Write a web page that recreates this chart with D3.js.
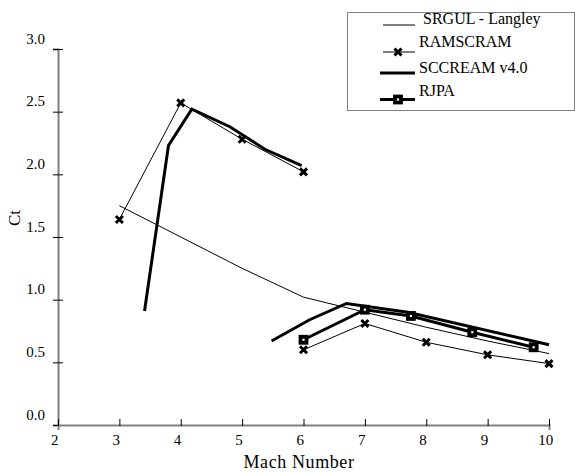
<!DOCTYPE html>
<html>
<head>
<meta charset="utf-8">
<script src="https://cdn.jsdelivr.net/npm/d3@7"></script>
<style>
  body { margin: 0; background: #fff; }
</style>
</head>
<body>
<div id="chart"></div>
<script>
// data
const srgulMach = [3, 4, 5, 6, 7, 8, 9, 10];
const srgulCt = [1.75, 1.50, 1.25, 1.02, 0.90, 0.78, 0.67, 0.57];

const ramHighMach = [3, 4, 5, 6];
const ramHighCt = [1.64, 2.57, 2.28, 2.02];
const ramLowMach = [6, 7, 8, 9, 10];
const ramLowCt = [0.60, 0.81, 0.66, 0.56, 0.49];

const sccHighMach = [3.41, 3.8, 4.18, 4.8, 5.37, 5.97];
const sccHighCt = [0.91, 2.23, 2.52, 2.38, 2.20, 2.07];
const sccLowMach = [5.48, 6.1, 6.7, 7.7, 10];
const sccLowCt = [0.67, 0.84, 0.97, 0.90, 0.64];

const rjpaMach = [6, 7, 7.75, 8.75, 9.75];
const rjpaCt = [0.68, 0.92, 0.87, 0.74, 0.62];

const xTicks = [2, 3, 4, 5, 6, 7, 8, 9, 10];
const yTicks = [0, 0.5, 1.0, 1.5, 2.0, 2.5, 3.0];

const legendNames = ["SRGUL - Langley", "RAMSCRAM", "SCCREAM v4.0", "RJPA"];

const serif = 'Liberation Serif';
const width = 575, height = 472;
const svg = d3.select('#chart').append('svg')
    .attr('width', width)
    .attr('height', height);

const xScale = d3.scaleLinear().domain([2, 10]).range([58, 549]);
const yScale = d3.scaleLinear().domain([0, 3]).range([425, 49]);

const zip = (xs, ys) => xs.map((m, i) => ({m: m, c: ys[i]}));

// axes
const yAxis = svg.append('g')
    .attr('transform', `translate(${xScale(2)},0)`)
    .call(d3.axisLeft(yScale).tickValues(yTicks).tickFormat(d3.format('.1f')).tickSize(5));
yAxis.select('.domain').attr('stroke', '#808080').attr('stroke-width', 2);
yAxis.selectAll('.tick line').attr('x1', -5).attr('x2', 5).attr('stroke', '#000');
yAxis.selectAll('.tick text')
    .attr('x', -13).attr('dy', '-0.4em')
    .style('font-family', serif)
    .style('font-size', '15px');

const xAxis = svg.append('g')
    .attr('transform', `translate(0,${yScale(0)})`)
    .call(d3.axisBottom(xScale).tickValues(xTicks).tickFormat(d3.format('d')).tickSize(5));
xAxis.select('.domain').attr('stroke', '#808080').attr('stroke-width', 2);
xAxis.selectAll('.tick line').attr('y1', -6).attr('y2', 1).attr('stroke', '#000');
xAxis.selectAll('.tick text')
    .attr('y', 9).attr('dx', '-0.25em')
    .style('font-family', serif)
    .style('font-size', '15px');

// axis labels
svg.append('text')
    .attr('x', 299).attr('y', 468)
    .attr('text-anchor', 'middle')
    .style('font-family', serif)
    .style('font-size', '18px')
    .style('letter-spacing', '0.6px')
    .text('Mach Number');

svg.append('text')
    .attr('transform', 'translate(20,218) rotate(-90)')
    .attr('text-anchor', 'middle')
    .style('font-family', serif)
    .style('font-size', '17px')
    .text('Ct');

const line = d3.line().x(d => xScale(d.m)).y(d => yScale(d.c));

function drawLine(data, w) {
    svg.append('path')
        .datum(data)
        .attr('fill', 'none')
        .attr('stroke', '#000')
        .attr('stroke-width', w)
        .attr('d', line);
}

function crossPath(cx, cy, r) {
    return `M${cx - r},${cy - r}L${cx + r},${cy + r}M${cx - r},${cy + r}L${cx + r},${cy - r}`;
}

function drawCrosses(data) {
    svg.append('g').selectAll('path')
        .data(data)
        .enter()
        .append('path')
        .attr('d', d => crossPath(xScale(d.m), yScale(d.c), 3.5))
        .attr('stroke', '#000')
        .attr('stroke-width', 3)
        .attr('fill', 'none');
}

function drawSquares(data) {
    svg.append('g').selectAll('rect')
        .data(data)
        .enter()
        .append('rect')
        .attr('x', d => xScale(d.m) - 3)
        .attr('y', d => yScale(d.c) - 3)
        .attr('width', 6)
        .attr('height', 6)
        .attr('fill', '#fff')
        .attr('stroke', '#000')
        .attr('stroke-width', 3.8);
}

// series
drawLine(zip(srgulMach, srgulCt), 1);
drawLine(zip(ramHighMach, ramHighCt), 1);
drawLine(zip(ramLowMach, ramLowCt), 1);
drawLine(zip(sccHighMach, sccHighCt), 3);
drawLine(zip(sccLowMach, sccLowCt), 3);
drawLine(zip(rjpaMach, rjpaCt), 3);
drawCrosses(zip(ramHighMach, ramHighCt));
drawCrosses(zip(ramLowMach, ramLowCt));
drawSquares(zip(rjpaMach, rjpaCt));

// legend
const legend = svg.append('g');
legend.append('rect')
    .attr('x', 347.5).attr('y', 12.5)
    .attr('width', 227).attr('height', 98)
    .attr('fill', '#fff')
    .attr('stroke', '#808080')
    .attr('stroke-width', 1);

const legendLineY = [25, 52, 73, 99.5];
const legendTextY = [24, 47, 73, 96];
const legendWidth = [1, 1, 3, 3];
const legendX0 = [383, 383, 380, 380];

legendNames.forEach((name, i) => {
    legend.append('line')
        .attr('x1', legendX0[i]).attr('x2', 415)
        .attr('y1', legendLineY[i]).attr('y2', legendLineY[i])
        .attr('stroke', '#000')
        .attr('stroke-width', legendWidth[i]);
    legend.append('text')
        .attr('x', i === 0 ? 423 : 419)
        .attr('y', legendTextY[i])
        .style('font-family', serif)
        .style('font-size', '16px')
        .text(name);
});
legend.append('path')
    .attr('d', crossPath(398, legendLineY[1], 3.5))
    .attr('stroke', '#000').attr('stroke-width', 3);
legend.append('rect')
    .attr('x', 398 - 3).attr('y', legendLineY[3] - 3)
    .attr('width', 6).attr('height', 6)
    .attr('fill', '#fff').attr('stroke', '#000').attr('stroke-width', 3.8);
</script>
</body>
</html>
